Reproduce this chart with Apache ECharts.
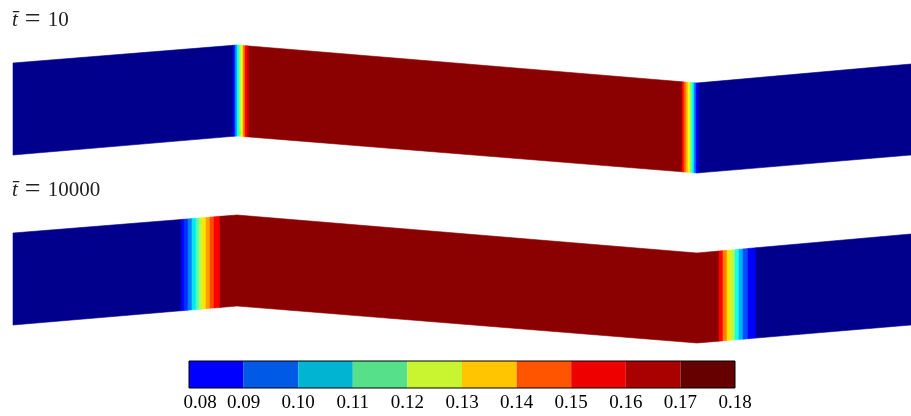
<!DOCTYPE html>
<html><head><meta charset="utf-8">
<script src="https://cdn.jsdelivr.net/npm/echarts@6/dist/echarts.min.js"></script>
<style>html,body{margin:0;padding:0;background:#fff}#c{width:911px;height:416px}</style>
</head><body><div id="c"></div>
<script>
// ---- data: concentration along the beam (x = mesh position, value per cell) ----
const strip1Label = '10';
const strip1Edges = [13,233,235,237,239,241,243,245,247,249,682,684,686,688,690,692,694,696,699,911];
const strip1Values = [0.080,0.0925,0.105,0.1175,0.130,0.1425,0.155,0.1675,0.172,0.180,0.1675,0.158,0.150,0.1425,0.130,0.1175,0.105,0.0925,0.080];

const strip2Label = '10000';
const strip2Edges = [13,181,184,188,192,196,199,202,206,210,214,220,719,723,727,731,735,739,743,748,756,911];
const strip2Values = [0.080,0.0925,0.097,0.105,0.115,0.125,0.135,0.145,0.152,0.160,0.1675,0.180,0.1675,0.155,0.145,0.135,0.120,0.110,0.100,0.0925,0.080];

// colour bar
const colorbarTicks = [0.08,0.09,0.10,0.11,0.12,0.13,0.14,0.15,0.16,0.17,0.18];
const colorbarColors = ['#0000ff','#005ae6','#00b4d2','#56e08a','#c8f530','#ffc600','#ff5500','#ee0000','#a90000','#660000'];

// beam geometry (kinked strip), in page units
const beamX = [13, 237, 697, 911];
const beamTop = [63, 45, 83, 64];
const beamBottom = [155, 136, 173, 155];
const stripOffsets = [0, 170];

const jet = ['#00008c','#0000ff','#0080ff','#00ffff','#80ff80','#ffff00','#ff8000','#ff0000','#8b0000'];

function cells(edges, values, off) {
  return values.map((v, i) => [edges[i], edges[i + 1], v, off]);
}
function edgeY(arr, x) {
  for (let i = 0; i < beamX.length - 1; i++) {
    if (x <= beamX[i + 1] || i === beamX.length - 2) {
      const f = (x - beamX[i]) / (beamX[i + 1] - beamX[i]);
      return arr[i] + f * (arr[i + 1] - arr[i]);
    }
  }
}
function renderStrip(params, api) {
  const x0 = api.value(0), x1 = api.value(1), off = api.value(3);
  const xs = [x0];
  beamX.forEach(k => { if (k > x0 && k < x1) xs.push(k); });
  xs.push(x1);
  const pts = [];
  xs.forEach(x => pts.push(api.coord([x, edgeY(beamTop, x) + off])));
  for (let i = xs.length - 1; i >= 0; i--) pts.push(api.coord([xs[i], edgeY(beamBottom, xs[i]) + off]));
  const c = api.visual('color');
  return { type: 'polygon', shape: { points: pts }, style: { fill: c, stroke: c, lineWidth: 0.6 } };
}
function renderBar(params, api) {
  const p0 = api.coord([api.value(0), 1]);
  const p1 = api.coord([api.value(1), 0]);
  return { type: 'rect', shape: { x: p0[0], y: p0[1], width: p1[0] - p0[0], height: p1[1] - p0[1] },
           style: { fill: colorbarColors[api.value(2)] } };
}
const barData = colorbarColors.map((c, i) => [colorbarTicks[i], colorbarTicks[i + 1], i]);

const serif = 'Liberation Serif';
function titleText(label) {
  return {
    text: '{i|t\u0304}{g|}{e|=}{g|}{n|' + label + '}',
    font: '21px "Liberation Serif"', fill: '#222',
    rich: {
      i: { fontStyle: 'italic', fontFamily: serif, fontSize: 21, fill: '#222' },
      g: { width: 7 },
      e: { fontFamily: serif, fontSize: 28, fill: '#222' },
      n: { fontFamily: serif, fontSize: 21, fill: '#222' }
    }
  };
}

const chart = echarts.init(document.getElementById('c'), null, { renderer: 'canvas' });
chart.setOption({
  animation: false,
  backgroundColor: '#fff',
  grid: [
    { left: 0, top: 0, width: 911, height: 416, show: false },
    { left: 189, top: 361, width: 546, height: 27, show: true, z: 5, borderColor: '#000', borderWidth: 1, backgroundColor: 'transparent' }
  ],
  xAxis: [
    { type: 'value', gridIndex: 0, min: 0, max: 911, show: false },
    { type: 'value', gridIndex: 1, min: 0.08, max: 0.18, interval: 0.01,
      axisLine: { show: false }, axisTick: { show: false }, splitLine: { show: false },
      axisLabel: { margin: 6, color: '#000', fontFamily: serif, fontSize: 19,
        formatter: (v) => {
          const s = v.toFixed(2);
          return Math.abs(v - colorbarTicks[0]) < 1e-9 ? '{first|' + s + '}' : s;
        },
        rich: { first: { padding: [0, 0, 0, 22], fontFamily: serif, fontSize: 19, color: '#000' } } } }
  ],
  yAxis: [
    { type: 'value', gridIndex: 0, min: 0, max: 416, inverse: true, show: false },
    { type: 'value', gridIndex: 1, min: 0, max: 1, show: false }
  ],
  visualMap: { type: 'continuous', show: false, seriesIndex: [0, 1], dimension: 2, min: 0.08, max: 0.18, inRange: { color: jet } },
  series: [
    { type: 'custom', xAxisIndex: 0, yAxisIndex: 0, renderItem: renderStrip, data: cells(strip1Edges, strip1Values, stripOffsets[0]) },
    { type: 'custom', xAxisIndex: 0, yAxisIndex: 0, renderItem: renderStrip, data: cells(strip2Edges, strip2Values, stripOffsets[1]) },
    { type: 'custom', xAxisIndex: 1, yAxisIndex: 1, renderItem: renderBar, data: barData, z: 1 }
  ],
  graphic: [
    { type: 'text', left: 12, top: 6, style: titleText(strip1Label) },
    { type: 'text', left: 12, top: 176, style: titleText(strip2Label) }
  ]
});
</script>
</body></html>
